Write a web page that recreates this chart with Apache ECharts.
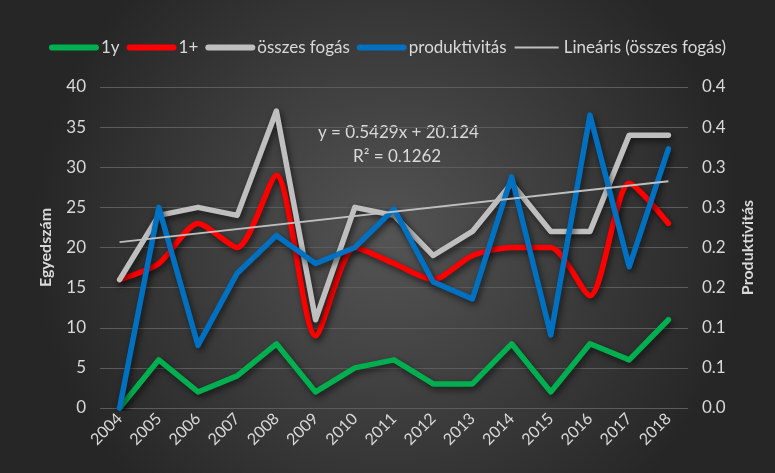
<!DOCTYPE html>
<html>
<head>
<meta charset="utf-8">
<script src="https://cdn.jsdelivr.net/npm/echarts@6/dist/echarts.min.js"></script>
<style>
  html, body { margin: 0; padding: 0; }
  #chart { width: 775px; height: 473px; }
</style>
</head>
<body>
<div id="chart"></div>
<script>
// adatok a kepről leolvasva
const years = ['2004', '2005', '2006', '2007', '2008', '2009', '2010', '2011', '2012', '2013', '2014', '2015', '2016', '2017', '2018']
const egyeves = [0, 6, 2, 4, 8, 2, 5, 6, 3, 3, 8, 2, 8, 6, 11]
const idosebb = [16, 18, 23, 20, 29, 9, 20, 18, 16, 19, 20, 20, 14, 28, 23]
const osszes = [16, 24, 25, 24, 37, 11, 25, 24, 19, 22, 28, 22, 22, 34, 34]
const produktivitas = [0, 0.25, 0.078, 0.168, 0.215, 0.18, 0.2, 0.248, 0.157, 0.136, 0.288, 0.091, 0.365, 0.176, 0.323]
// trendvonal: csak a két végpont
const trend = [20.67, null, null, null, null, null, null, null, null, null, null, null, null, null, 28.27]
const rightTicks = ['0.0', '0.1', '0.1', '0.2', '0.2', '0.3', '0.3', '0.4', '0.4']

const txt = '#D9D9D9'
const font = 'Lato, "Open Sans", sans-serif'
const shadow = { shadowColor: 'rgba(0,0,0,0.6)', shadowBlur: 6, shadowOffsetX: 2, shadowOffsetY: 3 }

const chart = echarts.init(document.getElementById('chart'))

function lineSeries(name, data, color, extra) {
  return Object.assign({
    name: name,
    type: 'line',
    data: data,
    symbol: 'none',
    lineStyle: Object.assign({ color: color, width: 5.5, cap: 'round', join: 'round' }, shadow),
    itemStyle: { color: color },
    z: 3
  }, extra || {})
}

const option = {
  backgroundColor: {
    type: 'radial', x: 0.5, y: 0.5, r: 0.75,
    colorStops: [
      { offset: 0, color: '#545454' },
      { offset: 1, color: '#262626' }
    ]
  },
  textStyle: { fontFamily: font },
  legend: {
    top: 34,
    left: 'center',
    itemWidth: 44,
    itemHeight: 12,
    itemGap: 7,
    itemStyle: { opacity: 0 },
    lineStyle: { width: 6, cap: 'round' },
    textStyle: { color: txt, fontSize: 17, fontFamily: font },
    data: [
      '1y', '1+', 'összes fogás', 'produktivitás',
      { name: 'Lineáris (összes fogás)', lineStyle: { width: 2, cap: 'butt' } }
    ]
  },
  grid: { left: 100, right: 87, top: 87, bottom: 65 },
  xAxis: {
    type: 'category',
    data: years,
    boundaryGap: true,
    axisLine: { show: false },
    axisTick: { show: false },
    axisLabel: { color: txt, fontSize: 16, rotate: 45, interval: 0, margin: 8 }
  },
  yAxis: [
    {
      type: 'value',
      min: 0, max: 40, interval: 5,
      name: 'Egyedszám',
      nameLocation: 'middle',
      nameGap: 46,
      nameTextStyle: { color: txt, fontSize: 16, fontWeight: 'bold' },
      axisLine: { show: false },
      axisTick: { show: false },
      axisLabel: { color: txt, fontSize: 17, margin: 14 },
      splitLine: { lineStyle: { color: '#5c5c5c', width: 1 } }
    },
    {
      type: 'value',
      min: 0, max: 0.4, interval: 0.05,
      name: 'Produktivitás',
      nameLocation: 'middle',
      nameGap: 52,
      nameTextStyle: { color: txt, fontSize: 16, fontWeight: 'bold' },
      axisLine: { show: false },
      axisTick: { show: false },
      axisLabel: {
        color: txt, fontSize: 17, margin: 14,
        formatter: v => rightTicks[Math.round(v / 0.05)]
      },
      splitLine: { show: false }
    }
  ],
  graphic: [
    {
      type: 'text', left: 318, top: 124,
      style: { text: 'y = 0.5429x + 20.124', fill: txt, font: '17px ' + font }
    },
    {
      type: 'text', left: 353, top: 148,
      style: { text: 'R² = 0.1262', fill: txt, font: '17px ' + font }
    }
  ],
  series: [
    lineSeries('1y', egyeves, '#00B050'),
    lineSeries('1+', idosebb, '#FF0000', { smooth: 0.25 }),
    lineSeries('összes fogás', osszes, '#BFBFBF'),
    lineSeries('produktivitás', produktivitas, '#0070C0', { yAxisIndex: 1, z: 4 }),
    {
      name: 'Lineáris (összes fogás)',
      type: 'line',
      data: trend,
      connectNulls: true,
      symbol: 'none',
      lineStyle: { color: '#BFBFBF', width: 2 },
      itemStyle: { color: '#BFBFBF' },
      z: 5
    }
  ]
}

chart.setOption(option)
</script>
</body>
</html>
